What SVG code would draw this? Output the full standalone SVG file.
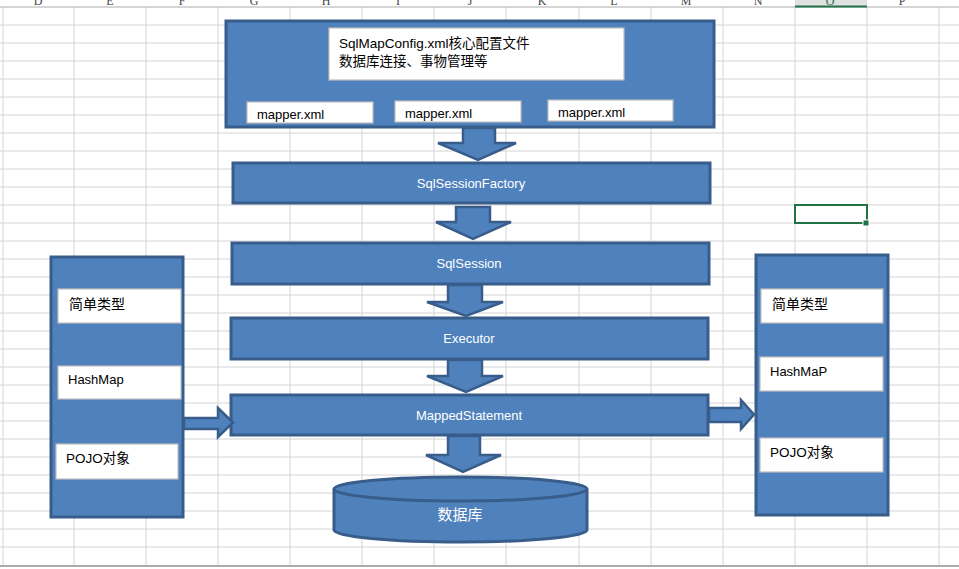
<svg xmlns="http://www.w3.org/2000/svg" width="959" height="569" viewBox="0 0 959 569">
<style>
.grid line{stroke:#d4d4d4;stroke-width:1}
.hdr{font-family:"Liberation Serif",serif;font-size:12px;fill:#444;text-anchor:middle}
.shape{fill:#4f81bd;stroke:#385d8a;stroke-width:3;stroke-linejoin:miter}
.wbox{fill:#fff;stroke:#bfbfbf;stroke-width:1.2}
.bt{font-family:"Liberation Sans","Noto Sans CJK SC",sans-serif;font-size:13px;fill:#000}
.wt{font-family:"Liberation Sans","Noto Sans CJK SC",sans-serif;font-size:13px;fill:#fff;text-anchor:middle}
.arrow{fill:#4f81bd;stroke:#385d8a;stroke-width:2.5;stroke-linejoin:miter}
</style>
<rect x="0" y="0" width="959" height="569" fill="#fff"/>
<g class="grid">
<line x1="3" y1="7" x2="3" y2="565"/><line x1="74" y1="7" x2="74" y2="565"/><line x1="146" y1="7" x2="146" y2="565"/><line x1="218" y1="7" x2="218" y2="565"/><line x1="290" y1="7" x2="290" y2="565"/><line x1="362" y1="7" x2="362" y2="565"/><line x1="434" y1="7" x2="434" y2="565"/><line x1="506" y1="7" x2="506" y2="565"/><line x1="579" y1="7" x2="579" y2="565"/><line x1="651" y1="7" x2="651" y2="565"/><line x1="723" y1="7" x2="723" y2="565"/><line x1="795" y1="7" x2="795" y2="565"/><line x1="867" y1="7" x2="867" y2="565"/><line x1="939" y1="7" x2="939" y2="565"/>
<line x1="0" y1="25" x2="959" y2="25"/><line x1="0" y1="43" x2="959" y2="43"/><line x1="0" y1="61" x2="959" y2="61"/><line x1="0" y1="79" x2="959" y2="79"/><line x1="0" y1="97" x2="959" y2="97"/><line x1="0" y1="115" x2="959" y2="115"/><line x1="0" y1="133" x2="959" y2="133"/><line x1="0" y1="151" x2="959" y2="151"/><line x1="0" y1="169" x2="959" y2="169"/><line x1="0" y1="187" x2="959" y2="187"/><line x1="0" y1="205" x2="959" y2="205"/><line x1="0" y1="223" x2="959" y2="223"/><line x1="0" y1="241" x2="959" y2="241"/><line x1="0" y1="259" x2="959" y2="259"/><line x1="0" y1="277" x2="959" y2="277"/><line x1="0" y1="295" x2="959" y2="295"/><line x1="0" y1="313" x2="959" y2="313"/><line x1="0" y1="331" x2="959" y2="331"/><line x1="0" y1="349" x2="959" y2="349"/><line x1="0" y1="367" x2="959" y2="367"/><line x1="0" y1="385" x2="959" y2="385"/><line x1="0" y1="403" x2="959" y2="403"/><line x1="0" y1="421" x2="959" y2="421"/><line x1="0" y1="439" x2="959" y2="439"/><line x1="0" y1="457" x2="959" y2="457"/><line x1="0" y1="475" x2="959" y2="475"/><line x1="0" y1="493" x2="959" y2="493"/><line x1="0" y1="511" x2="959" y2="511"/><line x1="0" y1="529" x2="959" y2="529"/><line x1="0" y1="547" x2="959" y2="547"/>
</g>
<rect x="795" y="0" width="72" height="7" fill="#e1e1e1"/>
<line x1="0" y1="7" x2="959" y2="7" stroke="#ababab" stroke-width="1"/>
<line x1="795" y1="6.5" x2="867" y2="6.5" stroke="#217346" stroke-width="2"/>
<line x1="0" y1="566" x2="959" y2="566" stroke="#ababab" stroke-width="2"/>
<g>
<text class="hdr" x="38" y="5">D</text><text class="hdr" x="110" y="5">E</text><text class="hdr" x="182" y="5">F</text><text class="hdr" x="254" y="5">G</text><text class="hdr" x="326" y="5">H</text><text class="hdr" x="398" y="5">I</text><text class="hdr" x="470" y="5">J</text><text class="hdr" x="542" y="5">K</text><text class="hdr" x="614" y="5">L</text><text class="hdr" x="686" y="5">M</text><text class="hdr" x="758" y="5">N</text><text class="hdr" x="830" y="5" style="fill:#217346">O</text><text class="hdr" x="902" y="5">P</text>
</g>
<rect x="795" y="205" width="72" height="18" fill="none" stroke="#217346" stroke-width="2"/>
<rect x="863" y="220" width="6" height="6" fill="#217346" stroke="#fff" stroke-width="1"/>

<g id="config">
<rect class="shape" x="226" y="21" width="488" height="106"/>
<rect class="wbox" x="329" y="28" width="295" height="52"/>
<text class="bt" x="339" y="48" style="font-size:13.5px">SqlMapConfig.xml核心配置文件</text>
<text class="bt" x="339" y="66" style="font-size:13.5px">数据库连接、事物管理等</text>
<rect class="wbox" x="247" y="102" width="126" height="21"/>
<text class="bt" x="257" y="119">mapper.xml</text>
<rect class="wbox" x="395" y="101" width="126" height="21"/>
<text class="bt" x="405" y="118">mapper.xml</text>
<rect class="wbox" x="548" y="100" width="125" height="21"/>
<text class="bt" x="558" y="117">mapper.xml</text>
</g>
<g id="factory">
<rect class="shape" x="233" y="163" width="477" height="40"/>
<text class="wt" x="471" y="188">SqlSessionFactory</text>
</g>
<g id="session">
<rect class="shape" x="232" y="243" width="477" height="41"/>
<text class="wt" x="469" y="268">SqlSession</text>
</g>
<g id="executor">
<rect class="shape" x="231" y="318" width="477" height="41"/>
<text class="wt" x="469" y="343">Executor</text>
</g>
<g id="mapped">
<rect class="shape" x="231" y="395" width="477" height="40"/>
<text class="wt" x="469" y="420">MappedStatement</text>
</g>
<g id="db">
<path class="shape" d="M334,489 L334,530 A126.5,12 0 0 0 587,530 L587,489"/>
<ellipse class="shape" cx="460.5" cy="489" rx="126.5" ry="12"/>
<text class="wt" x="460" y="520" style="font-size:15px">数据库</text>
</g>
<g id="input">
<rect class="shape" x="51" y="257" width="132" height="260"/>
<rect class="wbox" x="58" y="289" width="123" height="34"/>
<text class="bt" x="69" y="309" style="font-size:14px">简单类型</text>
<rect class="wbox" x="58" y="366" width="123" height="33"/>
<text class="bt" x="68" y="384">HashMap</text>
<rect class="wbox" x="56" y="444" width="122" height="35"/>
<text class="bt" x="66" y="463" style="font-size:13.5px">POJO对象</text>
</g>
<g id="output">
<rect class="shape" x="756" y="255" width="132" height="260"/>
<rect class="wbox" x="761" y="289" width="122" height="34"/>
<text class="bt" x="772" y="309" style="font-size:14px">简单类型</text>
<rect class="wbox" x="760" y="357" width="123" height="34"/>
<text class="bt" x="770" y="376">HashMaP</text>
<rect class="wbox" x="760" y="438" width="123" height="34"/>
<text class="bt" x="770" y="457" style="font-size:13.5px">POJO对象</text>
</g>
<g id="connectors">
<polygon class="arrow" points="463,128 495,128 495,143 516,143 478,160 438,143 463,143"/>
<polygon class="arrow" points="456,207 490,207 490,222 511,222 473,239 436,222 456,222"/>
<polygon class="arrow" points="448,285 482,285 482,302 503,302 466,316 427,302 448,302"/>
<polygon class="arrow" points="448,360 482,360 482,376 503,376 466,392 427,376 448,376"/>
<polygon class="arrow" points="448,436 480,436 480,455 501,455 463,472 426,455 448,455"/>
<polygon class="arrow" points="184,418 218,418 218,408 233,422.5 218,437 218,429 184,429"/>
<polygon class="arrow" points="709,408 741,408 741,400 754,414.5 741,429 741,422 709,422"/>
</g>
</svg>
